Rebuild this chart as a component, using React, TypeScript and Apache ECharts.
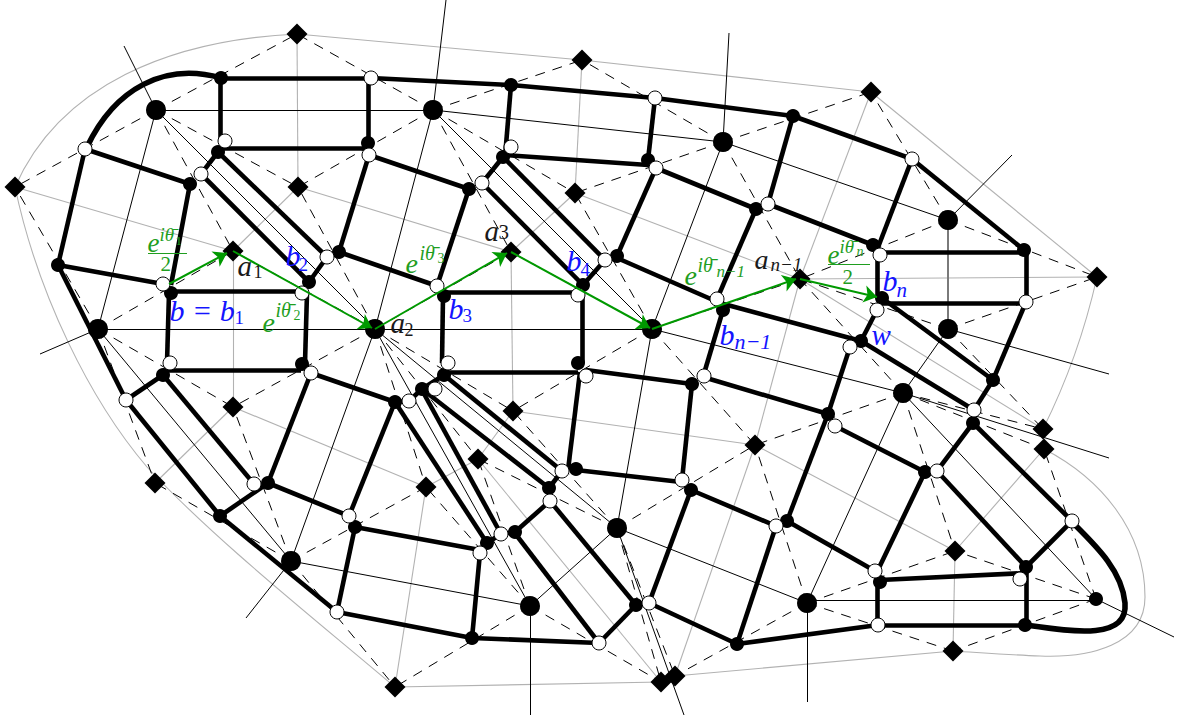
import React, { useEffect, useRef } from "react";
import * as echarts from "echarts";

type P = number[];
const WIDTH = 1181;
const HEIGHT = 719;

const diamonds: P[] = [
  [297, 34], [582, 60], [871, 92], [15, 187], [298, 187], [575, 193], [233, 251], [511, 252],
  [800, 279], [1097, 277], [233, 407], [513, 411], [755, 445], [1043, 429], [1044, 449], [478, 459],
  [426, 487], [155, 483], [955, 551], [395, 687], [661, 682], [675, 676], [953, 651],
];
const hubs: P[] = [
  [156, 110], [433, 110], [723, 142], [948, 220], [98, 329], [375, 329], [652, 329], [948, 329],
  [903, 393], [617, 528], [291, 561], [530, 606], [807, 603],
];
const endHub: P[] = [[1096, 599]];
const blackNodes: P[] = [
  [221, 78], [190, 184], [58, 265], [171, 293], [218, 152], [368, 143], [339, 252], [309, 282],
  [302, 364], [163, 375], [268, 483], [220, 516], [395, 402], [355, 527], [511, 85], [793, 116],
  [503, 157], [469, 189], [648, 160], [756, 209], [444, 296], [617, 256], [583, 285], [723, 310],
  [873, 245], [1024, 250], [882, 298], [861, 341], [993, 380], [828, 414], [444, 375], [422, 389],
  [578, 363], [692, 384], [576, 469], [549, 488], [515, 532], [487, 543], [472, 638], [636, 605],
  [737, 644], [691, 490], [925, 472], [787, 521], [880, 582], [1026, 567], [973, 423], [1025, 625],
];
const whiteNodes: P[] = [
  [371, 78], [85, 149], [163, 284], [225, 141], [201, 174], [369, 155], [327, 257], [302, 293],
  [311, 373], [170, 363], [126, 400], [254, 484], [349, 516], [337, 612], [655, 98], [511, 147],
  [482, 183], [656, 168], [768, 204], [437, 286], [605, 260], [578, 295], [717, 299], [912, 159],
  [880, 255], [1026, 302], [877, 310], [850, 347], [974, 410], [448, 363], [435, 389], [409, 401],
  [586, 376], [704, 376], [562, 471], [550, 501], [501, 534], [480, 553], [599, 643], [649, 603],
  [682, 480], [776, 526], [835, 426], [937, 471], [875, 571], [1020, 579], [1072, 521], [878, 625],
];

const thickEdges: P[] = [
  [221, 78, 371, 78], [371, 78, 511, 85], [511, 85, 655, 98], [655, 98, 793, 116], [793, 116, 912, 159], [912, 159, 1024, 250],
  [220, 78, 220, 141], [222, 148, 368, 148], [368, 78, 368, 145], [85, 149, 190, 184], [85, 149, 58, 265], [58, 265, 163, 284],
  [190, 184, 171, 285], [171, 291, 302, 291], [169, 293, 167, 363], [307, 293, 305, 363], [163, 370, 301, 370], [58, 265, 126, 400],
  [126, 400, 163, 375], [126, 400, 220, 516], [220, 516, 268, 483], [163, 375, 254, 484], [218, 152, 201, 174], [201, 174, 309, 282],
  [218, 152, 327, 257], [309, 282, 327, 257], [327, 257, 339, 252], [339, 252, 437, 286], [369, 155, 339, 252], [369, 155, 469, 189],
  [469, 189, 437, 286], [511, 85, 505, 157], [505, 155, 648, 165], [655, 98, 648, 160], [503, 157, 482, 183], [482, 183, 583, 285],
  [503, 157, 605, 260], [583, 285, 605, 260], [656, 168, 617, 256], [656, 168, 756, 209], [793, 116, 768, 204], [768, 204, 873, 245],
  [756, 209, 717, 299], [912, 159, 877, 250], [617, 258, 720, 303], [720, 303, 861, 341], [861, 341, 974, 410], [877, 310, 861, 341],
  [882, 298, 993, 380], [993, 380, 1026, 302], [880, 303, 1026, 303], [880, 252, 1026, 252], [1026, 250, 1026, 302], [877, 255, 877, 298],
  [993, 380, 974, 410], [850, 347, 828, 414], [723, 310, 703, 377], [445, 292, 583, 292], [443, 296, 442, 363], [582, 295, 582, 363],
  [444, 372, 578, 372], [586, 370, 692, 384], [703, 377, 828, 414], [835, 426, 925, 472], [828, 414, 787, 521], [692, 384, 682, 480],
  [580, 372, 568, 470], [576, 470, 681, 482], [691, 490, 776, 526], [787, 521, 875, 571], [776, 526, 737, 644], [691, 490, 649, 603],
  [649, 603, 737, 644], [636, 605, 599, 643], [550, 501, 636, 605], [514, 532, 599, 643], [549, 488, 422, 389], [444, 375, 562, 471],
  [395, 402, 487, 543], [423, 392, 501, 534], [395, 402, 409, 401], [409, 401, 422, 389], [422, 389, 444, 375], [501, 534, 487, 543],
  [501, 534, 515, 532], [515, 532, 550, 501], [549, 488, 562, 471], [355, 527, 480, 550], [480, 553, 472, 638], [472, 638, 599, 643],
  [337, 612, 472, 638], [355, 527, 337, 612], [349, 516, 395, 402], [311, 373, 395, 402], [311, 373, 268, 483], [268, 483, 349, 516],
  [220, 516, 337, 612], [737, 644, 878, 625], [878, 625, 1025, 625], [877, 582, 877, 625], [880, 580, 1026, 573], [1026, 567, 1026, 625],
  [1026, 567, 1072, 521], [937, 471, 1026, 567], [973, 423, 1072, 521], [925, 472, 877, 572], [973, 423, 937, 471],
];
// Each curve: a start point, then cubic Bezier triples (control, control, end).
const thickCurves: P[][] = [
  [[87, 147], [115, 88], [165, 62], [221, 78]],
  [[1025, 625], [1075, 632], [1128, 640], [1125, 603], [1122, 570], [1095, 545], [1072, 522]],
];
const grayCurves: P[][] = [
  [[15, 187], [60, 85], [170, 40], [297, 34]],
  [[1097, 277], [1085, 330], [1065, 385], [1043, 429]],
  [[1044, 449], [1100, 478], [1145, 530], [1145, 597], [1145, 645], [1090, 658], [1040, 656], [1010, 655], [985, 653], [953, 651]],
  [[395, 687], [310, 615], [215, 540], [147, 467], [90, 400], [38, 295], [15, 187]],
];
const grayEdges: P[] = [
  [297, 34, 582, 60], [582, 60, 871, 92], [871, 92, 1097, 277], [953, 651, 675, 676], [661, 682, 395, 687],
  [297, 34, 298, 187], [298, 187, 233, 251], [233, 251, 233, 407], [233, 407, 155, 483], [15, 187, 233, 251],
  [298, 187, 511, 252], [511, 252, 513, 411], [582, 60, 575, 193], [575, 193, 511, 252], [575, 193, 800, 279],
  [800, 279, 871, 92], [800, 279, 1097, 277], [800, 279, 755, 445], [513, 411, 755, 445], [755, 445, 675, 676],
  [800, 279, 1043, 429], [233, 407, 426, 487], [426, 487, 478, 459], [478, 459, 513, 411], [478, 459, 661, 682],
  [426, 487, 395, 687], [755, 445, 955, 551], [1044, 449, 955, 551], [955, 551, 953, 651],
];
const darkGrayEdge: P[] = [[948, 220, 948, 329]];

// hub index, diamond index
const dashedLinks: number[][] = [
  [0, 0], [0, 3], [0, 4], [0, 6], [1, 0], [1, 1], [1, 4], [1, 5], [1, 7], [2, 1], [2, 2], [2, 5], [2, 8],
  [3, 2], [3, 9], [3, 8], [7, 8], [7, 9], [7, 13], [4, 3], [4, 6], [4, 10], [4, 17], [5, 4], [5, 6], [5, 7],
  [5, 10], [5, 11], [5, 15], [5, 16], [6, 7], [6, 5], [6, 8], [6, 11], [6, 12], [8, 8], [8, 12], [8, 13],
  [8, 14], [8, 18], [9, 11], [9, 12], [9, 15], [9, 20], [9, 21], [10, 17], [10, 10], [10, 16], [10, 19],
  [11, 16], [11, 15], [11, 19], [11, 20], [12, 12], [12, 18], [12, 21], [12, 22],
];
const dashedFromEnd: number[] = [14, 18, 22];

const thinHubLinks: number[][] = [
  [0, 1], [0, 4], [0, 5], [1, 5], [1, 6], [1, 2], [2, 3], [2, 6], [4, 5], [4, 10], [5, 10], [5, 6], [5, 9],
  [5, 11], [6, 9], [6, 8], [7, 8], [8, 12], [9, 11], [9, 12], [10, 11],
];
const thinStubs: P[] = [
  [156, 110, 124, 46], [433, 110, 446, 0], [723, 142, 729, 33], [948, 220, 1012, 155], [98, 329, 40, 354],
  [948, 329, 1109, 374], [903, 393, 1109, 458], [903, 393, 1096, 599], [617, 528, 684, 715], [291, 561, 246, 618],
  [530, 606, 530, 715], [807, 603, 807, 702], [807, 600, 1096, 600], [1096, 599, 1174, 637],
];

const arrows: P[] = [
  [169, 284, 227, 253], [233, 251, 372, 328], [375, 329, 507, 253], [511, 252, 650, 328], [652, 329, 796, 279], [800, 279, 877, 297],
];
const fractionBars: P[] = [[148, 253, 187, 253], [828, 264, 870, 264]];

const GREEN = "#1f9e1f";
const BLUE = "#1414ff";
const INK = "#1a1a1a";
// text, x, y, size, colour, italic
const mathLabels: any[][] = [
  ["e", 148, 243, 27, GREEN, true], ["iθ̄", 160, 235, 19, GREEN, true], ["1", 176, 241, 13, GREEN, false], ["2", 161, 264, 21, GREEN, false],
  ["a", 238, 266, 29, INK, true], ["1", 254, 272, 18, INK, false],
  ["b", 286, 256, 30, BLUE, true], ["2", 299, 265, 19, BLUE, false],
  ["b = b", 170, 311, 30, BLUE, true], ["1", 235, 318, 19, BLUE, false],
  ["e", 263, 323, 28, GREEN, true], ["iθ̄", 276, 310, 20, GREEN, true], ["2", 294, 316, 14, GREEN, false],
  ["a", 391, 323, 29, INK, true], ["2", 405, 330, 18, INK, false],
  ["b", 449, 309, 30, BLUE, true], ["3", 463, 316, 19, BLUE, false],
  ["e", 406, 264, 28, GREEN, true], ["iθ̄", 420, 253, 20, GREEN, true], ["3", 438, 259, 14, GREEN, false],
  ["a", 485, 231, 29, INK, true], ["3", 499, 232, 21, INK, false],
  ["b", 567, 261, 30, BLUE, true], ["4", 581, 270, 19, BLUE, false],
  ["e", 685, 276, 28, GREEN, true], ["iθ̄", 698, 265, 20, GREEN, true], ["n−1", 717, 272, 17, GREEN, true],
  ["a", 755, 260, 28, INK, true], ["n−1", 771, 265, 19, INK, true],
  ["b", 720, 335, 30, BLUE, true], ["n−1", 735, 342, 22, BLUE, true],
  ["e", 828, 255, 27, GREEN, true], ["iθ̄", 840, 247, 19, GREEN, true], ["n", 857, 252, 14, GREEN, true], ["2", 843, 277, 21, GREEN, false],
  ["b", 883, 281, 30, BLUE, true], ["n", 897, 290, 21, BLUE, true],
  ["w", 872, 335, 29, BLUE, true],
];

const seg = (s: P) => ({ coords: [[s[0], s[1]], [s[2], s[3]]] });
const lines = (data: P[], color: string, width: number, z: number, extra: any = {}, dash?: number[]) => ({
  type: "lines",
  coordinateSystem: "cartesian2d",
  silent: true,
  z,
  data: data.map(seg),
  lineStyle: { color, width, opacity: 1, curveness: 0, type: dash ?? "solid" },
  ...extra,
});
const curve = (pts: P[], color: string, width: number, z: number) => ({
  type: "custom",
  coordinateSystem: "cartesian2d",
  silent: true,
  clip: false,
  z,
  data: [pts[0]],
  renderItem: (_p: any, api: any) => {
    const m = pts.map((q) => api.coord(q));
    let d = `M${m[0][0]} ${m[0][1]}`;
    for (let i = 1; i + 2 < m.length; i += 3) {
      d += `C${m[i][0]} ${m[i][1]} ${m[i + 1][0]} ${m[i + 1][1]} ${m[i + 2][0]} ${m[i + 2][1]}`;
    }
    return {
      type: "path",
      shape: { pathData: d },
      style: { fill: "none", stroke: color, lineWidth: width },
    };
  },
});
const dots = (data: P[], symbol: string, size: number, z: number, itemStyle: any) => ({
  type: "scatter",
  data,
  symbol,
  symbolSize: size,
  z,
  silent: true,
  itemStyle: { opacity: 1, ...itemStyle },
});

const link = (a: P, b: P): P => [a[0], a[1], b[0], b[1]];

export default function App() {
  const ref = useRef<HTMLDivElement>(null);
  useEffect(() => {
    if (!ref.current) return;
    const chart = echarts.init(ref.current, undefined, { renderer: "svg" });
    const dashed: P[] = [
      ...dashedLinks.map(([h, d]) => link(hubs[h], diamonds[d])),
      ...dashedFromEnd.map((d) => link(endHub[0], diamonds[d])),
    ];
    const thin: P[] = [...thinHubLinks.map(([a, b]) => link(hubs[a], hubs[b])), ...thinStubs];
    chart.setOption({
      animation: false,
      backgroundColor: "#ffffff",
      grid: { left: 0, right: 0, top: 0, bottom: 0 },
      xAxis: { type: "value", min: 0, max: WIDTH, show: false },
      yAxis: { type: "value", min: 0, max: HEIGHT, inverse: true, show: false },
      series: [
        ...grayCurves.map((c) => curve(c, "#b2b2b2", 1.1, 1)),
        lines(grayEdges, "#b2b2b2", 1.1, 1),
        lines(thin, "#000000", 1, 2),
        lines(darkGrayEdge, "#7a7a7a", 2, 3),
        lines(dashed, "#000000", 1, 3, {}, [10, 8]),
        lines(thickEdges, "#000000", 4.6, 4),
        ...thickCurves.map((c) => curve(c, "#000000", 5.6, 4)),
        dots(diamonds, "diamond", 21, 5, { color: "#000000" }),
        dots(hubs, "circle", 20, 5, { color: "#000000" }),
        dots(endHub, "circle", 14, 5, { color: "#000000" }),
        dots(blackNodes, "circle", 14, 5, { color: "#000000" }),
        dots(whiteNodes, "circle", 14, 6, { color: "#ffffff", borderColor: "#000000", borderWidth: 1 }),
        lines(arrows, "#009900", 2, 7, { symbol: ["none", "arrow"], symbolSize: 13 }),
        lines(fractionBars, "#1f9e1f", 1.2, 7),
        {
          type: "scatter",
          z: 8,
          silent: true,
          symbolSize: 1,
          itemStyle: { color: "rgba(0,0,0,0)", opacity: 1 },
          data: mathLabels.map((l) => ({
            value: [l[1], l[2]],
            label: {
              show: true,
              formatter: String(l[0]),
              position: [0, 0],
              align: "left",
              verticalAlign: "middle",
              fontFamily: "Liberation Serif",
              fontStyle: l[5] ? "italic" : "normal",
              fontSize: l[3],
              color: l[4],
              opacity: 1,
            },
          })),
        },
      ],
    });
    return () => chart.dispose();
  }, []);
  return <div ref={ref} style={{ position: "fixed", left: 0, top: 0, width: WIDTH, height: HEIGHT }} />;
}
